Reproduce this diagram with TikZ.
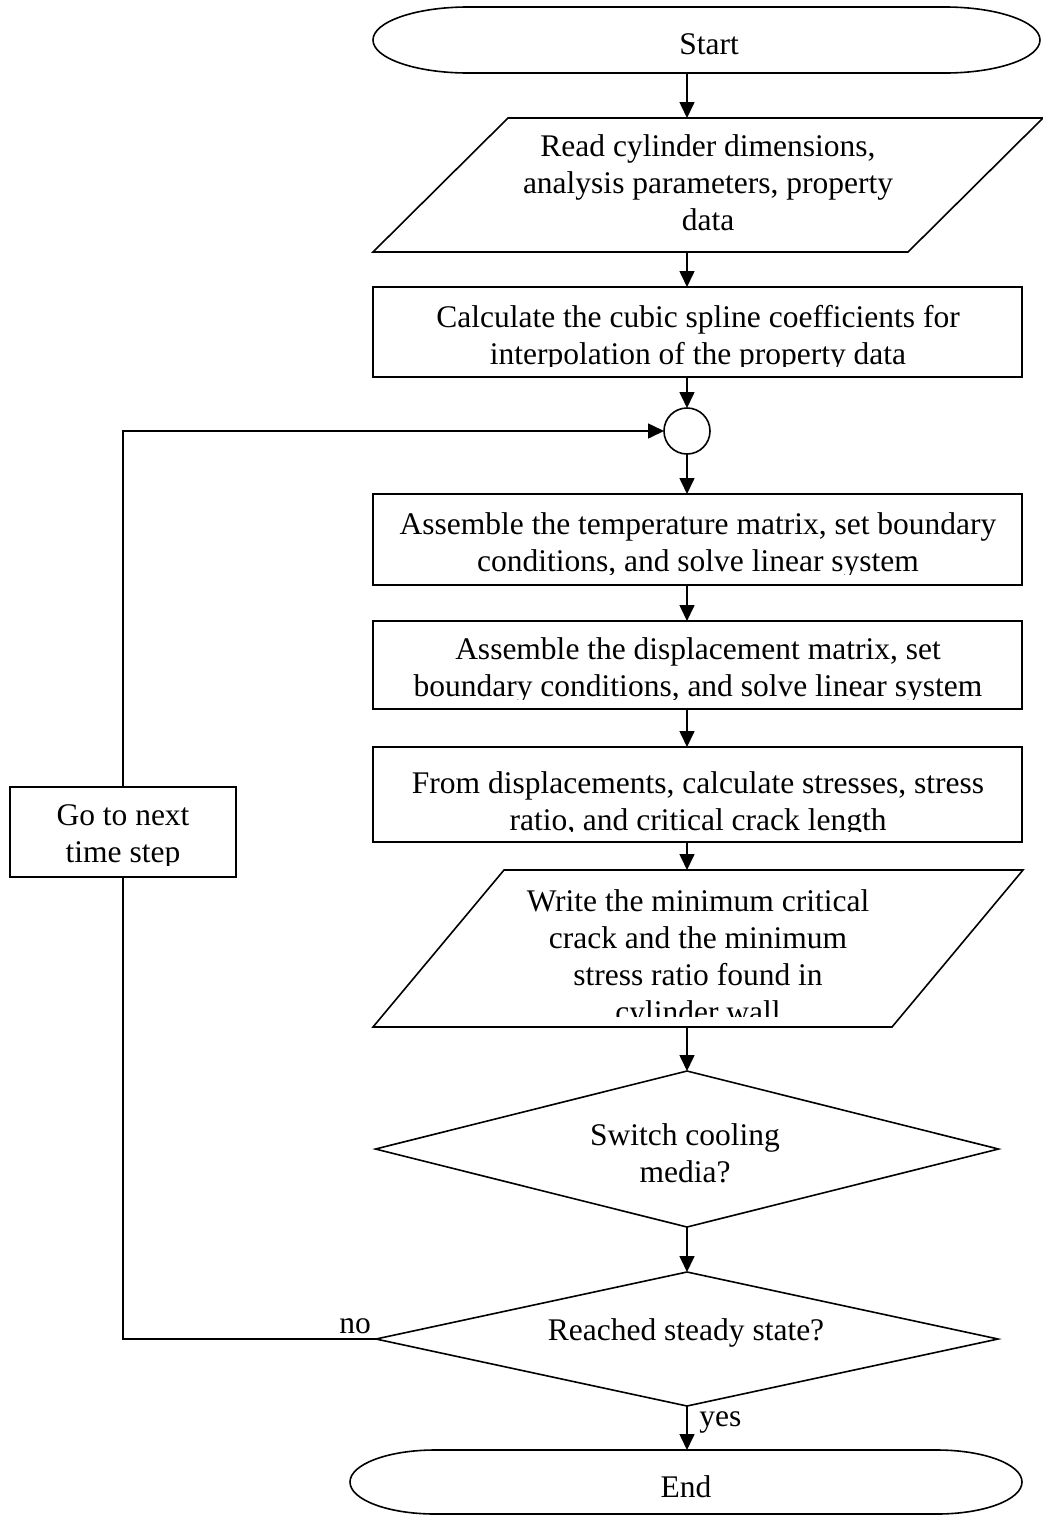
\documentclass[tikz,border=0pt]{standalone}
\usepackage{fontspec}
\setmainfont{Liberation Serif}
\usetikzlibrary{shapes.geometric,arrows.meta}
\begin{document}
\begin{tikzpicture}[x=0.5pt,y=-0.5pt,
  line/.style={line width=0.8pt},
  arr/.style={line width=0.8pt, -{Triangle[length=8pt,width=7.5pt]}},
  shp/.style={draw, line width=0.8pt, inner sep=0pt, outer sep=0pt},
  rbox/.style={shp, rectangle, minimum width=324.5pt},
  pbox/.style={rectangle, inner sep=0pt, outer sep=0pt},
  dec/.style={shp, diamond},
  txt/.style={inner sep=0pt, align=center, font=\fontsize{15.75}{18.5}\selectfont}]
\useasboundingbox (0,0) rectangle (1043,1516);
\coordinate (col) at (687,0);

% terminal: Start
\node[pbox, minimum width=333.5pt, minimum height=33pt] (start) at (706.5,40) {};
\draw[line] (468,7) -- (945,7) .. controls (997.5,7) and (1040,21.8) .. (1040,40)
  .. controls (1040,58.2) and (997.5,73) .. (945,73) -- (468,73)
  .. controls (415.5,73) and (373,58.2) .. (373,40)
  .. controls (373,21.8) and (415.5,7) .. (468,7) -- cycle;
\node[txt] (startT) at (709,44) {Start};

% input: read
\node[pbox, minimum width=267.5pt, minimum height=67pt] (read) at (708,185) {};
\draw[line] ([xshift=-33.75pt]read.south west) -- ([xshift=-33.75pt]read.south east)
  -- ([xshift=33.75pt]read.north east) -- ([xshift=33.75pt]read.north west) -- cycle;
\node[txt] (readT) at (708,183) {Read cylinder dimensions,\\analysis parameters, property\\data};

\node[rbox, minimum height=45pt] (calc) at (697.5,332) {};
\begin{scope}
\clip (373,287) rectangle (1022,366);
\node[txt] (calcT) at (698,338) {Calculate the cubic spline coefficients for\\interpolation of the property data};
\end{scope}

\node[shp, circle, minimum size=23pt] (join) at (687,431) {};

\node[rbox, minimum height=45.5pt] (temp) at (697.5,539.5) {};
\begin{scope}
\clip (373,494) rectangle (1022,574);
\node[txt] (tempT) at (698,545.5) {Assemble the temperature matrix, set boundary\\conditions, and solve linear system};
\end{scope}

\node[rbox, minimum height=44pt] (disp) at (697.5,665) {};
\begin{scope}
\clip (373,621) rectangle (1022,699);
\node[txt] (dispT) at (698,670.5) {Assemble the displacement matrix, set\\boundary conditions, and solve linear system};
\end{scope}

\node[rbox, minimum height=47.5pt] (from) at (697.5,794.5) {};
\begin{scope}
\clip (373,747) rectangle (1022,831);
\node[txt] (fromT) at (698,804.5) {From displacements, calculate stresses, stress\\ratio, and critical crack length};
\end{scope}

\node[pbox, minimum width=259.5pt, minimum height=78.5pt] (write) at (698,948.5) {};
\draw[line] ([xshift=-32.75pt]write.south west) -- ([xshift=-32.75pt]write.south east)
  -- ([xshift=32.75pt]write.north east) -- ([xshift=32.75pt]write.north west) -- cycle;
\begin{scope}
\clip (373,870) rectangle (1023,1016);
\node[txt] (writeT) at (698,959) {Write the minimum critical\\crack and the minimum\\stress ratio found in\\cylinder wall};
\end{scope}

\node[dec, minimum width=311.5pt, minimum height=78pt] (switch) at (687,1149) {};
\node[txt] (switchT) at (685,1153) {Switch cooling\\media?};

\node[dec, minimum width=311pt, minimum height=67pt] (reached) at (687,1339) {};
\node[txt] (reachedT) at (686,1333) {Reached steady state?};

% terminal: End
\node[pbox, minimum width=336pt, minimum height=32pt] (end) at (686,1482) {};
\draw[line] (435,1450) -- (937,1450) .. controls (984,1450) and (1022,1464.3) .. (1022,1482)
  .. controls (1022,1499.7) and (984,1514) .. (937,1514) -- (435,1514)
  .. controls (388,1514) and (350,1499.7) .. (350,1482)
  .. controls (350,1464.3) and (388,1450) .. (435,1450) -- cycle;
\node[txt] (endT) at (686,1487) {End};

\node[rbox, minimum width=113pt, minimum height=45pt] (go) at (123,832) {};
\begin{scope}
\clip (10,787) rectangle (236,865);
\node[txt] (goT) at (123,837) {Go to next\\time step};
\end{scope}

% labels
\node[txt, anchor=base] (noL) at (355,1333) {no};
\node[txt, anchor=base west] (yesL) at (699,1426) {yes};

% connectors
\draw[arr] (start.south -| col) -- (read.north -| col);
\draw[arr] (read.south -| col) -- (calc.north -| col);
\draw[arr] (calc.south -| col) -- (join.north);
\draw[arr] (join.south) -- (temp.north -| col);
\draw[arr] (temp.south -| col) -- (disp.north -| col);
\draw[arr] (disp.south -| col) -- (from.north -| col);
\draw[arr] (from.south -| col) -- (write.north -| col);
\draw[arr] (write.south -| col) -- (switch.north);
\draw[arr] (switch.south) -- (reached.north);
\draw[arr] (reached.south) -- (end.north -| col);
\draw[line] (reached.west) -| (go.south);
\draw[arr] (go.north) |- (join.west);
\end{tikzpicture}
\end{document}
